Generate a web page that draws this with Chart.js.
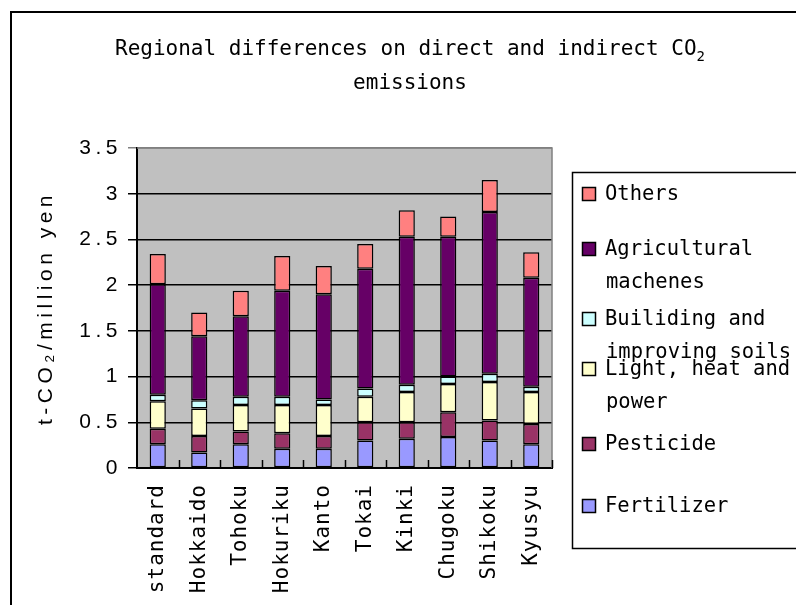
<!DOCTYPE html>
<html>
<head>
<meta charset="utf-8">
<script src="https://cdn.jsdelivr.net/npm/chart.js@4.4.0/dist/chart.umd.min.js"></script>
<style>
  html, body { margin: 0; padding: 0; background: #fff; }
  #wrap { width: 796px; height: 605px; position: relative; }
</style>
</head>
<body>
<div id="wrap"><canvas id="co2Chart" width="796" height="605"></canvas></div>
<script>
// --- DATA ---
const regions = ['standard', 'Hokkaido', 'Tohoku', 'Hokuriku', 'Kanto', 'Tokai', 'Kinki', 'Chugoku', 'Shikoku', 'Kyusyu'];
const fertilizer = [0.26, 0.17, 0.26, 0.21, 0.21, 0.30, 0.32, 0.34, 0.30, 0.26];
const pesticide  = [0.17, 0.18, 0.14, 0.17, 0.14, 0.20, 0.18, 0.27, 0.22, 0.22];
const lightHeat  = [0.30, 0.30, 0.29, 0.31, 0.34, 0.28, 0.33, 0.31, 0.42, 0.35];
const soils      = [0.07, 0.09, 0.09, 0.09, 0.06, 0.09, 0.08, 0.08, 0.09, 0.06];
const machines   = [1.21, 0.70, 0.88, 1.16, 1.15, 1.31, 1.62, 1.53, 1.77, 1.19];
const others     = [0.33, 0.26, 0.28, 0.38, 0.31, 0.27, 0.29, 0.22, 0.35, 0.28];
const yTickValues = [0, 0.5, 1, 1.5, 2, 2.5, 3, 3.5];
const yTickLabels = ['0', '0.5', '1', '1.5', '2', '2.5', '3', '3.5'];

// legend text, wrapped the way the box shows it (top to bottom)
const legendText = [
    ['Others'],
    ['Agricultural', 'machenes'],
    ['Builiding and', 'improving soils'],
    ['Light, heat and', 'power'],
    ['Pesticide'],
    ['Fertilizer']
];

const MONO = '"DejaVu Sans Mono", monospace';
const SANS = '"Liberation Sans", Arial, sans-serif';

// --- PLUGIN: plot background, frame, title, legend ---
const decorations = {
    id: 'decorations',
    beforeDraw(chart) {
        const { ctx, chartArea: a } = chart;
        ctx.save();
        ctx.fillStyle = '#ffffff';
        ctx.fillRect(0, 0, chart.width, chart.height);
        ctx.fillStyle = '#c0c0c0';
        ctx.fillRect(a.left, a.top, a.right - a.left, a.bottom - a.top);
        ctx.restore();
        ctx.letterSpacing = '4.5px'; // y axis lettering is spaced out
    },
    beforeDatasetsDraw(chart) {
        chart.ctx.letterSpacing = '1px'; // x axis labels (drawn after bars)
    },
    afterDraw(chart) {
        const { ctx, chartArea: a } = chart;
        const xs = chart.scales.x;
        ctx.save();
        ctx.letterSpacing = '0px';

        // gray top / right edge of the plot
        ctx.strokeStyle = '#808080';
        ctx.lineWidth = 1.5;
        ctx.beginPath();
        ctx.moveTo(a.left, a.top);
        ctx.lineTo(a.right, a.top);
        ctx.lineTo(a.right, a.bottom);
        ctx.stroke();

        // small inward ticks between categories
        const step = (a.right - a.left) / regions.length;
        ctx.strokeStyle = '#000';
        ctx.lineWidth = 1.5;
        ctx.beginPath();
        for (let i = 1; i <= regions.length; i++) {
            const x = Math.round(xs.getPixelForValue(i - 1) + step / 2) + 0.5;
            ctx.moveTo(x, a.bottom);
            ctx.lineTo(x, a.bottom - 8);
        }
        ctx.stroke();

        // outer frame
        ctx.lineWidth = 2;
        ctx.beginPath();
        ctx.moveTo(11, chart.height + 2);
        ctx.lineTo(11, 12);
        ctx.lineTo(chart.width + 2, 12);
        ctx.stroke();

        // title
        ctx.fillStyle = '#000';
        ctx.textBaseline = 'middle';
        ctx.font = '21px ' + MONO;
        const line1 = 'Regional differences on direct and indirect CO';
        const w1 = ctx.measureText(line1).width;
        ctx.font = '14px ' + MONO;
        const wSub = ctx.measureText('2').width;
        const x1 = 410 - (w1 + wSub) / 2;
        ctx.font = '21px ' + MONO;
        ctx.textAlign = 'left';
        ctx.fillText(line1, x1, 50);
        ctx.font = '14px ' + MONO;
        ctx.fillText('2', x1 + w1, 57);
        ctx.font = '21px ' + MONO;
        ctx.textAlign = 'center';
        ctx.fillText('emissions', 410, 84);

        // legend box
        ctx.lineWidth = 1.5;
        ctx.strokeRect(572.5, 172.5, 240, 376);
        const rowY = [194, 249, 319, 369, 444, 506];
        const ds = chart.data.datasets.slice().reverse();
        ctx.textAlign = 'left';
        ctx.font = '20.5px ' + MONO;
        ds.forEach((d, i) => {
            const y = rowY[i];
            ctx.fillStyle = d.backgroundColor;
            ctx.fillRect(582, y - 7, 14, 14);
            ctx.strokeStyle = '#000';
            ctx.lineWidth = 1.5;
            ctx.strokeRect(582.5, y - 6.5, 13, 13);
            ctx.fillStyle = '#000';
            legendText[i].forEach((t, j) => {
                ctx.fillText(t, j === 0 ? 605 : 606, y + 1 + j * 33);
            });
        });
        ctx.restore();
    }
};

function makeSet(label, data, color) {
    return {
        label: label,
        data: data,
        backgroundColor: color,
        borderColor: '#000000',
        borderWidth: 1.5,
        borderSkipped: false,
        categoryPercentage: 1.0,
        barPercentage: 0.39
    };
}

new Chart(document.getElementById('co2Chart').getContext('2d'), {
    type: 'bar',
    data: {
        labels: regions,
        datasets: [
            makeSet('Fertilizer', fertilizer, '#9999ff'),
            makeSet('Pesticide', pesticide, '#993366'),
            makeSet('Light, heat and power', lightHeat, '#ffffcc'),
            makeSet('Builiding and improving soils', soils, '#ccffff'),
            makeSet('Agricultural machenes', machines, '#660066'),
            makeSet('Others', others, '#ff8080')
        ]
    },
    options: {
        responsive: false,
        animation: false,
        devicePixelRatio: 1,
        layout: { padding: { top: 148, right: 244, bottom: 0, left: 0 } },
        plugins: {
            legend: { display: false },
            title: { display: false },
            tooltip: { enabled: false }
        },
        scales: {
            x: {
                stacked: true,
                afterFit: s => { s.height = 137; },
                grid: { display: false },
                border: { display: true, color: '#000', width: 2, z: 1 },
                ticks: {
                    z: 1,
                    autoSkip: false,
                    maxRotation: 90,
                    minRotation: 90,
                    padding: 8,
                    color: '#000',
                    font: { family: MONO, size: 21 }
                }
            },
            y: {
                stacked: true,
                min: 0,
                max: 3.5,
                afterFit: s => { s.width = 137; },
                afterBuildTicks: s => { s.ticks = yTickValues.map(v => ({ value: v })); },
                grid: {
                    color: c => (c.tick && c.tick.value === 3.5 ? '#808080' : '#000000'),
                    lineWidth: 1.5,
                    drawTicks: true,
                    tickLength: 9
                },
                border: { display: true, color: '#000', width: 2 },
                ticks: {
                    padding: 6,
                    color: '#000',
                    font: { family: SANS, size: 21 },
                    callback: (v, i) => yTickLabels[i]
                },
                title: {
                    display: true,
                    text: 't-CO\u2082/million yen',
                    color: '#000',
                    font: { family: SANS, size: 21 },
                    padding: { top: 34, bottom: 0 }
                }
            }
        }
    },
    plugins: [decorations]
});
</script>
</body>
</html>
